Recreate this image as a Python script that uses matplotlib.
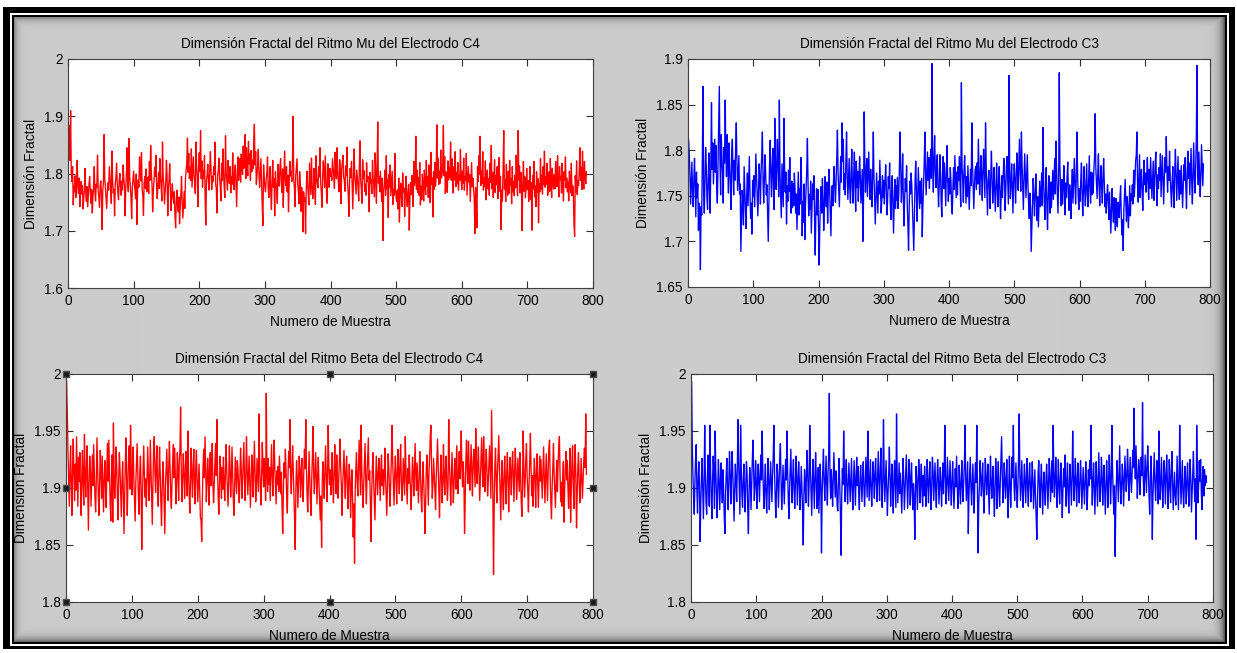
import numpy as np
import matplotlib
matplotlib.use("Agg")
import matplotlib.pyplot as plt
from matplotlib.ticker import FuncFormatter

# Fractal dimension values, in thousandths above 1
# (e.g. 782 -> 1.782). One value per sample, samples 1..790.
mu_c4_milli = [
    852, 884, 823, 910, 801, 786, 812, 745, 779, 768, 796, 758, 774, 823, 781, 765, 792, 742, 771, 786,
    764, 779, 738, 758, 772, 809, 766, 751, 777, 742, 763, 781, 795, 769, 748, 772, 731, 759, 778, 812,
    768, 752, 781, 776, 832, 769, 758, 741, 779, 787, 762, 702, 771, 785, 868, 792, 774, 756, 739, 768,
    784, 771, 812, 795, 776, 748, 839, 789, 766, 772, 726, 781, 793, 818, 784, 767, 754, 788, 800, 778,
    762, 787, 771, 815, 792, 778, 726, 774, 801, 845, 783, 768, 861, 794, 779, 758, 721, 776, 789, 804,
    781, 772, 756, 799, 711, 768, 789, 776, 829, 801, 787, 837, 771, 762, 727, 784, 795, 774, 808, 768,
    779, 794, 765, 821, 788, 849, 801, 782, 733, 769, 786, 811, 795, 832, 778, 756, 781, 802, 774, 826,
    791, 776, 752, 855, 794, 781, 747, 768, 786, 823, 796, 726, 774, 789, 817, 771, 735, 764, 782, 760,
    748, 768, 726, 705, 752, 771, 744, 733, 759, 712, 741, 763, 795, 749, 722, 746, 768, 739, 791, 806,
    817, 862, 802, 835, 791, 811, 788, 843, 776, 804, 829, 798, 783, 765, 855, 812, 794, 742, 810, 836,
    803, 875, 791, 822, 776, 805, 792, 831, 753, 710, 789, 798, 816, 784, 771, 809, 838, 802, 772, 795,
    786, 812, 798, 855, 781, 774, 731, 796, 806, 827, 791, 779, 752, 817, 788, 843, 801, 776, 758, 866,
    802, 789, 771, 823, 795, 783, 812, 766, 795, 781, 836, 789, 772, 801, 815, 778, 742, 796, 829, 788,
    811, 826, 785, 834, 812, 798, 848, 809, 822, 868, 791, 845, 813, 796, 856, 817, 834, 788, 840, 803,
    823, 809, 852, 886, 815, 838, 781, 796, 817, 842, 799, 776, 803, 826, 784, 741, 709, 815, 792, 776,
    768, 789, 801, 829, 776, 758, 782, 812, 764, 737, 788, 823, 776, 791, 726, 803, 785, 771, 748, 816,
    792, 778, 812, 826, 785, 767, 808, 741, 781, 839, 794, 779, 812, 768, 797, 733, 782, 821, 796, 804,
    786, 823, 900, 789, 775, 742, 796, 811, 826, 784, 769, 747, 803, 781, 734, 776, 762, 698, 768, 752,
    758, 695, 771, 804, 782, 766, 745, 818, 792, 763, 827, 779, 756, 772, 809, 781, 746, 831, 794, 781,
    775, 812, 794, 845, 783, 767, 741, 792, 822, 804, 776, 831, 798, 763, 748, 817, 789, 776, 809, 795,
    802, 788, 826, 812, 797, 774, 837, 809, 791, 845, 804, 783, 768, 824, 801, 747, 808, 819, 832, 794,
    788, 769, 813, 796, 846, 781, 767, 725, 785, 809, 793, 821, 782, 738, 795, 843, 797, 779, 764, 806,
    792, 776, 752, 816, 857, 789, 772, 748, 824, 791, 805, 769, 781, 762, 819, 786, 795, 771, 733, 802,
    784, 789, 765, 823, 792, 778, 759, 836, 801, 748, 812, 890, 783, 795, 768, 804, 779, 751, 792, 683,
    769, 781, 806, 762, 831, 773, 789, 723, 798, 776, 815, 761, 782, 804, 746, 771, 762, 835, 774, 758,
    751, 771, 738, 792, 715, 764, 783, 759, 742, 801, 768, 774, 725, 768, 795, 757, 742, 768, 781, 701,
    756, 784, 763, 797, 778, 742, 821, 779, 788, 865, 772, 806, 767, 793, 762, 819, 745, 778, 754, 799,
    781, 752, 806, 781, 763, 823, 778, 794, 758, 815, 776, 749, 837, 781, 792, 724, 803, 772, 819, 778,
    796, 885, 792, 827, 781, 804, 783, 841, 792, 798, 814, 884, 796, 829, 765, 803, 788, 767, 822, 789,
    811, 794, 855, 788, 826, 793, 766, 812, 789, 838, 777, 801, 782, 819, 771, 797, 788, 842, 795, 772,
    804, 783, 827, 771, 795, 788, 835, 762, 789, 812, 785, 798, 751, 784, 819, 777, 792, 771, 758, 695,
    776, 768, 705, 812, 786, 831, 798, 865, 779, 804, 783, 838, 771, 792, 777, 822, 754, 789, 806, 773,
    791, 762, 818, 785, 849, 773, 802, 758, 786, 824, 767, 796, 781, 812, 756, 783, 828, 769, 795, 702,
    771, 752, 808, 875, 773, 789, 751, 816, 778, 762, 804, 765, 823, 779, 791, 747, 812, 768, 786, 761,
    797, 775, 832, 788, 761, 875, 789, 813, 766, 802, 778, 700, 785, 821, 769, 794, 758, 776, 809, 772,
    788, 751, 769, 812, 755, 784, 701, 796, 773, 821, 759, 778, 742, 803, 767, 791, 714, 782, 768, 826,
    773, 797, 764, 812, 781, 839, 776, 794, 781, 818, 762, 787, 803, 769, 826, 784, 758, 809, 782, 773,
    798, 773, 821, 786, 777, 831, 784, 759, 812, 789, 795, 766, 818, 781, 752, 803, 788, 829, 775, 792,
    768, 785, 752, 804, 781, 766, 818, 761, 779, 773, 712, 690, 796, 768, 822, 763, 787, 779, 806, 845,
    788, 811, 772, 839, 794, 773, 821, 794, 782, 803,
]

mu_c3_milli = [
    811, 795, 772, 741, 763, 787, 752, 738, 769, 791, 758, 727, 776, 748, 763, 712, 742, 735, 669, 738,
    729, 792, 870, 752, 731, 769, 803, 782, 748, 735, 770, 797, 755, 731, 786, 852, 779, 808, 763, 788,
    812, 776, 805, 758, 742, 784, 821, 870, 789, 751, 817, 793, 775, 742, 803, 786, 855, 798, 771, 817,
    789, 753, 808, 781, 762, 735, 798, 812, 774, 751, 789, 767, 803, 830, 788, 756, 775, 794, 752, 763,
    689, 721, 756, 743, 718, 782, 757, 734, 714, 751, 775, 739, 768, 793, 751, 725, 742, 708, 767, 749,
    772, 738, 761, 796, 773, 749, 728, 752, 785, 769, 741, 778, 794, 820, 767, 742, 768, 795, 775, 751,
    762, 729, 700, 743, 786, 811, 771, 749, 782, 802, 758, 735, 835, 781, 757, 788, 812, 776, 749, 855,
    773, 748, 726, 785, 761, 738, 835, 782, 754, 776, 719, 761, 744, 778, 755, 792, 748, 731, 766, 737,
    763, 739, 775, 758, 731, 752, 713, 745, 776, 729, 758, 741, 792, 765, 706, 744, 721, 763, 702, 739,
    757, 778, 813, 762, 728, 751, 735, 766, 709, 738, 763, 746, 772, 721, 685, 733, 758, 729, 757, 712,
    674, 716, 744, 760, 731, 769, 748, 712, 736, 771, 752, 738, 765, 720, 753, 779, 758, 732, 706, 744,
    761, 739, 766, 782, 758, 743, 767, 791, 822, 774, 756, 738, 769, 793, 765, 830, 788, 812, 757, 774,
    751, 789, 820, 772, 746, 768, 791, 756, 742, 776, 801, 758, 742, 775, 798, 761, 733, 788, 759, 777,
    744, 766, 793, 772, 742, 761, 779, 700, 743, 842, 788, 754, 776, 791, 749, 772, 798, 767, 746, 779,
    755, 738, 772, 820, 771, 748, 719, 747, 775, 753, 731, 766, 752, 789, 760, 731, 745, 772, 748, 767,
    741, 768, 784, 755, 729, 746, 771, 758, 786, 742, 724, 755, 772, 741, 709, 743, 768, 736, 761, 745,
    770, 736, 752, 781, 820, 778, 743, 762, 796, 748, 717, 746, 769, 755, 783, 741, 718, 690, 737, 766,
    752, 775, 761, 738, 718, 690, 727, 766, 788, 752, 722, 749, 781, 758, 736, 766, 742, 769, 705, 738,
    763, 786, 820, 776, 751, 774, 798, 767, 792, 758, 783, 801, 769, 895, 782, 754, 791, 816, 778, 759,
    782, 795, 761, 738, 762, 795, 776, 743, 727, 772, 793, 758, 786, 761, 739, 776, 805, 768, 744, 769,
    752, 781, 766, 739, 730, 758, 781, 757, 794, 772, 748, 776, 751, 782, 767, 793, 761, 738, 874, 782,
    767, 743, 778, 794, 766, 742, 771, 749, 783, 757, 735, 758, 779, 761, 830, 785, 760, 736, 762, 778,
    782, 757, 786, 763, 812, 779, 751, 770, 794, 772, 745, 779, 801, 773, 748, 830, 782, 754, 729, 767,
    778, 761, 736, 772, 799, 770, 742, 758, 781, 757, 733, 761, 786, 759, 738, 764, 782, 751, 725, 754,
    772, 748, 768, 791, 775, 734, 756, 782, 793, 768, 741, 882, 779, 747, 762, 785, 758, 731, 766, 785,
    768, 742, 772, 797, 779, 756, 785, 812, 777, 755, 820, 784, 758, 735, 769, 796, 771, 748, 773, 795,
    762, 741, 725, 753, 736, 689, 717, 742, 769, 752, 728, 748, 774, 751, 723, 749, 716, 742, 766, 738,
    751, 775, 739, 825, 768, 743, 724, 757, 781, 740, 713, 748, 772, 749, 731, 765, 737, 759, 778, 746,
    768, 791, 752, 810, 777, 754, 731, 765, 885, 783, 755, 739, 768, 741, 756, 783, 761, 729, 764, 748,
    772, 787, 751, 734, 762, 746, 725, 758, 779, 742, 768, 791, 763, 741, 767, 820, 778, 749, 735, 758,
    744, 769, 786, 751, 728, 753, 782, 756, 739, 761, 785, 752, 738, 767, 794, 759, 742, 776, 751, 775,
    753, 778, 792, 840, 781, 764, 747, 775, 796, 762, 739, 767, 783, 758, 742, 771, 791, 766, 738, 752,
    731, 748, 762, 745, 724, 754, 732, 709, 735, 758, 737, 721, 748, 734, 712, 747, 729, 716, 743, 732,
    726, 748, 761, 729, 707, 724, 690, 735, 752, 768, 741, 722, 749, 736, 715, 738, 761, 728, 752, 745,
    762, 741, 778, 749, 766, 788, 795, 820, 761, 743, 769, 795, 748, 768, 779, 753, 734, 766, 789, 762,
    775, 754, 771, 792, 763, 746, 779, 758, 792, 771, 747, 769, 788, 745, 762, 786, 798, 762, 739, 773,
    758, 781, 767, 796, 749, 772, 794, 767, 741, 769, 792, 776, 815, 778, 754, 782, 767, 799, 771, 753,
    738, 766, 782, 754, 737, 778, 801, 772, 745, 769, 793, 761, 746, 778, 752, 783, 761, 737, 759, 784,
    767, 792, 758, 736, 772, 799, 769, 786, 751, 778, 802, 765, 741, 776, 808, 772, 753, 779, 812, 893,
    781, 762, 798, 774, 749, 772, 806, 785, 761, 785,
]

beta_c4_milli = [
    993, 966, 932, 908, 884, 915, 937, 901, 876, 918, 943, 912, 889, 921, 898, 945, 912, 884, 927, 906,
    931, 898, 876, 912, 933, 901, 885, 947, 911, 892, 918, 937, 899, 863, 904, 928, 915, 884, 906, 929,
    902, 938, 916, 891, 879, 907, 944, 918, 893, 876, 905, 933, 916, 891, 928, 902, 879, 907, 924, 901,
    883, 917, 939, 906, 942, 916, 888, 871, 904, 929, 870, 957, 912, 891, 907, 936, 919, 893, 872, 908,
    931, 916, 894, 875, 907, 923, 898, 860, 892, 921, 944, 909, 876, 905, 928, 937, 899, 955, 921, 894,
    913, 936, 907, 888, 871, 905, 922, 939, 914, 889, 877, 913, 928, 901, 846, 892, 915, 937, 911, 892,
    908, 884, 911, 936, 914, 889, 903, 942, 917, 890, 868, 905, 935, 945, 913, 896, 921, 937, 902, 884,
    909, 936, 914, 888, 867, 899, 923, 912, 885, 860, 901, 918, 934, 907, 889, 919, 941, 916, 893, 882,
    907, 924, 938, 909, 935, 912, 886, 904, 931, 916, 889, 923, 935, 971, 914, 888, 906, 930, 917, 891,
    908, 932, 919, 893, 950, 916, 894, 878, 907, 935, 911, 892, 917, 934, 903, 886, 919, 933, 906, 888,
    905, 921, 897, 874, 872, 853, 891, 918, 934, 909, 945, 917, 888, 903, 926, 912, 885, 918, 931, 902,
    916, 939, 904, 887, 903, 922, 939, 911, 960, 916, 893, 877, 904, 928, 912, 891, 918, 899, 927, 904,
    889, 913, 938, 916, 901, 884, 905, 937, 918, 892, 909, 936, 913, 889, 876, 901, 927, 912, 895, 924,
    918, 901, 887, 909, 935, 918, 891, 904, 923, 940, 907, 889, 914, 945, 916, 894, 911, 928, 907, 883,
    905, 929, 916, 892, 918, 941, 914, 888, 902, 926, 911, 897, 965, 921, 899, 885, 913, 940, 917, 901,
    926, 912, 889, 983, 914, 897, 926, 903, 918, 889, 914, 938, 911, 893, 917, 942, 918, 901, 886, 915,
    903, 919, 897, 928, 911, 895, 914, 882, 860, 897, 922, 909, 934, 916, 893, 878, 911, 932, 918, 960,
    911, 895, 918, 937, 916, 895, 872, 846, 901, 924, 909, 883, 906, 928, 917, 892, 911, 926, 899, 888,
    915, 934, 917, 960, 918, 893, 879, 904, 932, 911, 888, 876, 907, 928, 954, 913, 895, 912, 931, 907,
    886, 911, 927, 904, 889, 872, 893, 848, 906, 923, 909, 891, 915, 937, 912, 888, 907, 955, 922, 903,
    916, 894, 908, 931, 904, 887, 912, 938, 913, 895, 929, 906, 891, 907, 924, 943, 918, 902, 876, 901,
    917, 933, 909, 891, 916, 928, 905, 882, 904, 921, 908, 874, 899, 916, 892, 857, 886, 834, 898, 917,
    931, 905, 893, 916, 942, 919, 894, 955, 918, 895, 883, 904, 921, 939, 907, 886, 912, 928, 944, 907,
    915, 889, 853, 894, 916, 931, 907, 888, 872, 903, 928, 911, 894, 913, 926, 907, 889, 918, 929, 902,
    916, 894, 907, 935, 911, 892, 876, 903, 930, 918, 899, 884, 905, 928, 955, 921, 903, 885, 912, 928,
    909, 886, 913, 934, 911, 895, 922, 938, 907, 889, 903, 926, 911, 894, 945, 918, 903, 886, 917, 904,
    929, 912, 898, 881, 905, 927, 914, 893, 916, 939, 911, 898, 922, 904, 887, 906, 932, 915, 893, 879,
    904, 923, 907, 886, 860, 891, 918, 929, 908, 885, 914, 927, 946, 955, 916, 891, 903, 926, 912, 898,
    881, 909, 925, 943, 918, 896, 874, 907, 929, 911, 887, 903, 938, 912, 894, 915, 928, 906, 889, 903,
    960, 922, 906, 885, 908, 931, 909, 887, 903, 926, 914, 899, 937, 911, 895, 916, 932, 908, 924, 950,
    917, 901, 923, 908, 860, 889, 925, 942, 917, 904, 941, 916, 898, 919, 938, 913, 893, 921, 934, 916,
    901, 952, 925, 904, 918, 936, 911, 889, 907, 925, 944, 916, 901, 945, 918, 897, 920, 934, 916, 893,
    905, 921, 937, 913, 891, 968, 927, 892, 824, 883, 919, 935, 908, 887, 914, 929, 946, 918, 895, 872,
    907, 924, 899, 881, 912, 928, 905, 886, 913, 931, 908, 879, 906, 927, 913, 894, 919, 932, 911, 888,
    914, 935, 918, 890, 906, 926, 912, 897, 931, 913, 889, 875, 904, 950, 918, 892, 906, 925, 939, 911,
    897, 879, 906, 925, 948, 917, 893, 911, 884, 908, 926, 909, 883, 912, 930, 907, 883, 904, 928, 906,
    925, 908, 891, 912, 936, 913, 887, 908, 930, 911, 889, 916, 935, 942, 909, 887, 873, 902, 918, 939,
    911, 898, 883, 907, 924, 897, 921, 936, 945, 912, 888, 905, 884, 906, 923, 870, 899, 918, 932, 907,
    924, 900, 882, 906, 935, 870, 898, 921, 937, 903, 882, 918, 938, 909, 865, 895, 918, 931, 906, 887,
    903, 926, 908, 891, 907, 924, 935, 918, 965, 912,
]

beta_c3_milli = [
    993, 935, 911, 892, 877, 904, 926, 938, 899, 878, 907, 923, 901, 853, 885, 909, 926, 898, 873, 902,
    955, 913, 888, 877, 906, 929, 912, 884, 955, 917, 891, 873, 905, 928, 914, 882, 950, 916, 893, 874,
    899, 925, 908, 881, 903, 922, 902, 887, 916, 898, 874, 860, 895, 913, 926, 899, 881, 907, 932, 914,
    886, 907, 932, 915, 893, 871, 899, 921, 906, 888, 918, 960, 923, 898, 877, 955, 919, 894, 883, 906,
    921, 897, 879, 904, 923, 912, 880, 860, 897, 918, 906, 881, 903, 925, 942, 917, 889, 902, 924, 905,
    882, 906, 921, 903, 888, 913, 929, 907, 950, 919, 896, 882, 905, 921, 893, 878, 902, 926, 907, 881,
    904, 923, 905, 888, 911, 927, 955, 916, 892, 874, 897, 921, 908, 883, 905, 926, 939, 907, 881, 898,
    920, 904, 886, 909, 925, 907, 950, 918, 893, 873, 897, 916, 934, 904, 887, 911, 925, 898, 882, 903,
    928, 911, 885, 904, 923, 907, 881, 896, 919, 898, 880, 850, 892, 916, 904, 887, 915, 933, 908, 884,
    902, 955, 918, 897, 876, 904, 925, 903, 882, 909, 931, 906, 882, 905, 918, 878, 901, 921, 902, 843,
    896, 917, 934, 906, 889, 909, 928, 903, 885, 912, 930, 983, 908, 891, 916, 903, 884, 907, 931, 911,
    892, 915, 903, 884, 880, 909, 926, 902, 877, 841, 892, 917, 903, 950, 914, 888, 909, 925, 901, 886,
    903, 922, 904, 888, 907, 926, 899, 881, 903, 924, 906, 885, 911, 927, 902, 919, 896, 881, 907, 920,
    905, 888, 909, 923, 901, 884, 902, 927, 908, 892, 950, 913, 889, 907, 925, 898, 884, 906, 923, 909,
    891, 914, 926, 903, 888, 910, 932, 905, 889, 916, 935, 904, 883, 907, 960, 912, 888, 907, 924, 898,
    876, 897, 913, 936, 909, 884, 905, 921, 897, 878, 909, 924, 902, 883, 965, 911, 887, 906, 922, 895,
    913, 894, 878, 902, 926, 909, 881, 897, 913, 929, 904, 882, 903, 925, 911, 885, 908, 922, 896, 881,
    904, 890, 855, 897, 919, 906, 881, 903, 925, 912, 887, 906, 921, 898, 884, 911, 893, 919, 906, 884,
    902, 925, 903, 887, 908, 923, 900, 881, 904, 927, 915, 889, 906, 922, 898, 883, 907, 925, 909, 886,
    901, 918, 903, 884, 906, 922, 895, 911, 955, 913, 886, 902, 927, 908, 889, 907, 924, 901, 885, 906,
    923, 904, 882, 899, 917, 901, 928, 905, 882, 893, 920, 906, 886, 901, 924, 903, 888, 907, 921, 955,
    908, 889, 906, 923, 860, 894, 911, 927, 902, 885, 904, 921, 897, 878, 906, 922, 905, 955, 901, 843,
    886, 902, 924, 911, 893, 906, 922, 897, 878, 900, 926, 913, 894, 905, 921, 899, 877, 903, 928, 905,
    891, 907, 919, 894, 875, 902, 926, 911, 882, 906, 923, 897, 884, 905, 928, 945, 913, 887, 899, 922,
    908, 891, 906, 925, 897, 874, 903, 928, 902, 883, 905, 927, 909, 955, 904, 889, 906, 922, 898, 883,
    901, 926, 965, 912, 889, 907, 924, 896, 883, 905, 921, 903, 887, 909, 926, 900, 884, 908, 922, 903,
    888, 904, 923, 907, 882, 899, 916, 892, 875, 855, 889, 913, 924, 901, 883, 906, 921, 898, 877, 902,
    914, 897, 885, 906, 921, 905, 882, 903, 926, 911, 888, 907, 924, 896, 955, 916, 892, 904, 927, 909,
    883, 900, 925, 903, 886, 907, 922, 896, 874, 898, 917, 901, 929, 903, 884, 909, 922, 895, 878, 906,
    921, 904, 885, 908, 950, 912, 889, 903, 926, 907, 884, 905, 922, 901, 887, 906, 924, 908, 882, 900,
    918, 903, 886, 904, 923, 907, 881, 897, 916, 902, 924, 908, 955, 911, 885, 906, 922, 899, 877, 904,
    923, 905, 884, 908, 931, 906, 888, 903, 927, 912, 885, 905, 920, 898, 877, 901, 924, 906, 883, 907,
    929, 911, 886, 904, 955, 918, 895, 877, 902, 840, 883, 906, 924, 905, 888, 912, 937, 903, 886, 905,
    921, 908, 884, 906, 928, 913, 897, 909, 934, 916, 889, 904, 927, 911, 896, 912, 933, 918, 970, 923,
    908, 937, 914, 891, 906, 925, 918, 894, 909, 927, 911, 975, 912, 893, 906, 929, 913, 896, 920, 937,
    914, 892, 877, 908, 928, 905, 855, 894, 912, 931, 905, 889, 907, 924, 908, 886, 950, 913, 890, 904,
    927, 905, 883, 901, 924, 912, 886, 906, 929, 908, 882, 899, 925, 903, 887, 914, 932, 906, 881, 898,
    914, 893, 885, 902, 928, 906, 881, 908, 955, 911, 886, 905, 924, 897, 883, 900, 919, 904, 886, 907,
    922, 901, 884, 907, 925, 906, 879, 895, 913, 932, 906, 888, 908, 855, 955, 911, 887, 903, 924, 906,
    925, 898, 881, 907, 919, 893, 916, 902, 911, 905,
]

titles = [
    "Dimensión Fractal del Ritmo Mu del Electrodo C4",
    "Dimensión Fractal del Ritmo Mu del Electrodo C3",
    "Dimensión Fractal del Ritmo Beta del Electrodo C4",
    "Dimensión Fractal del Ritmo Beta del Electrodo C3",
]
ylabels = ["Dimensión Fractal", "Dimensión Fractal", "Dimension Fractal", "Dimensión Fractal"]
xlabel = "Numero de Muestra"
x_ticks = [0, 100, 200, 300, 400, 500, 600, 700, 800]
y_ticks = [
    [1.6, 1.7, 1.8, 1.9, 2.0],
    [1.65, 1.7, 1.75, 1.8, 1.85, 1.9],
    [1.8, 1.85, 1.9, 1.95, 2.0],
    [1.8, 1.85, 1.9, 1.95, 2.0],
]

W, H = 1237, 653
FS = 9.8
plt.rcParams["font.family"] = ["Liberation Sans", "DejaVu Sans"]
plt.rcParams["font.size"] = FS


def make_background():
    """Screenshot frame: black border, white rule, grey panel with shaded edges."""
    bg = np.ones((H, W, 3))
    bg[7:649, 3:1235] = 0.0
    bg[13:646, 10:1229] = 1.0
    bg[15:644, 12:1227] = 0.0
    y0, y1, x0, x1 = 17, 642, 14, 1225
    yy, xx = np.mgrid[y0:y1, x0:x1]
    shade = np.maximum.reduce([
        0.28 * np.exp(-(yy - y0) / 3.5),
        0.26 * np.exp(-(xx - x0) / 3.5),
        0.45 * np.exp(-(x1 - 1 - xx) / 4.5),
        0.40 * np.exp(-(y1 - 1 - yy) / 4.0),
    ])
    bg[y0:y1, x0:x1] = np.clip(0.8 - shade, 0, 1)[..., None]
    return bg


def style_axes(ax, ticks):
    ax.set_xlim(0, 800)
    ax.set_xticks(x_ticks)
    ax.set_ylim(ticks[0], ticks[-1])
    ax.set_yticks(ticks)
    ax.yaxis.set_major_formatter(FuncFormatter(lambda v, p: f"{v:g}"))
    ax.tick_params(direction="in", top=True, right=True, length=5, width=0.8,
                   color="#303030", labelcolor="black", labelsize=FS, pad=4)
    for s in ax.spines.values():
        s.set_color("#404040")
        s.set_linewidth(0.8)


fig = plt.figure(figsize=(W / 100, H / 100), dpi=100)
fig.figimage(make_background(), 0, 0, origin="upper", zorder=-10)

# axes boxes in pixels: left, top, right, bottom
boxes = [(68, 59, 593, 288), (688, 59, 1210, 287), (66, 374, 593, 602), (691, 374, 1213, 602)]
series = [mu_c4_milli, mu_c3_milli, beta_c4_milli, beta_c3_milli]
colors = ["#ff0000", "#0000ff", "#ff0000", "#0000ff"]

axes = []
for (l, t, r, b), vals, col, title, ylab, ticks in zip(boxes, series, colors, titles, ylabels, y_ticks):
    ax = fig.add_axes([l / W, 1 - b / H, (r - l) / W, (b - t) / H])
    y = 1 + np.array(vals) / 1000.0
    x = np.arange(1, len(y) + 1)
    ax.plot(x, y, color=col, linewidth=0.95)
    style_axes(ax, ticks)
    ax.set_title(title, fontsize=FS, pad=8)
    ax.set_xlabel(xlabel, fontsize=FS, labelpad=5.5)
    ax.set_ylabel(ylab, fontsize=FS, labelpad=4)
    axes.append(ax)

# selection handles of the active axes (bottom-left)
hx = [0, 0.5, 1, 0, 1, 0, 0.5, 1]
hy = [1, 1, 1, 0.5, 0.5, 0, 0, 0]
axes[2].plot(hx, hy, ls="none", marker="s", ms=4.5, mfc="#1a1a1a", mec="#4d4d4d",
             transform=axes[2].transAxes, clip_on=False, zorder=5)

fig.savefig("out.png", dpi=100)
